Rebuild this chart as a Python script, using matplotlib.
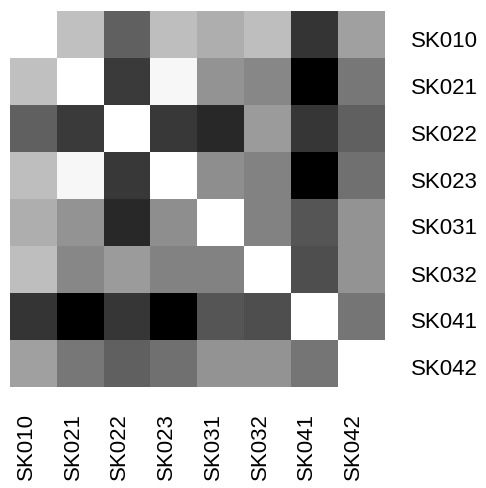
import numpy as np
import matplotlib
matplotlib.use("Agg")
import matplotlib.pyplot as plt
from matplotlib.transforms import ScaledTranslation

labels = ["SK010", "SK021", "SK022", "SK023", "SK031", "SK032", "SK041", "SK042"]

# gray intensity of each cell (0 = black, 255 = white); NaN = empty
row_SK010 = [np.nan, 192, 96, 190, 174, 190, 53, 160]
row_SK021 = [192, 255, 58, 247, 147, 135, 0, 119]
row_SK022 = [96, 58, 255, 56, 40, 155, 54, 96]
row_SK023 = [190, 247, 56, 255, 142, 130, 0, 112]
row_SK031 = [174, 147, 40, 142, 255, 130, 85, 147]
row_SK032 = [190, 135, 155, 130, 130, 255, 78, 147]
row_SK041 = [53, 0, 54, 0, 85, 78, 255, 117]
row_SK042 = [160, 119, 96, 112, 147, 147, 117, 255]

M = np.array([row_SK010, row_SK021, row_SK022, row_SK023,
              row_SK031, row_SK032, row_SK041, row_SK042], dtype=float)

plt.rcParams['font.family'] = ['Liberation Sans', 'DejaVu Sans']
fig = plt.figure(figsize=(4.86, 4.89), dpi=100)
W, H = 486, 489
x0, x1, y0, y1 = 10, 384, 12, 388
ax = fig.add_axes([x0 / W, 1 - y1 / H, (x1 - x0) / W, (y1 - y0) / H])
cmap = plt.get_cmap('gray').copy()
cmap.set_bad('white')
ax.imshow(np.ma.masked_invalid(M), cmap=cmap, vmin=0, vmax=255,
          aspect='auto', interpolation='nearest')
for s in ax.spines.values():
    s.set_visible(False)
ax.yaxis.tick_right()
ax.set_yticks(range(len(labels)))
ax.set_yticklabels(labels, fontsize=16)
ax.set_xticks(range(len(labels)))
ax.set_xticklabels(labels, fontsize=16, rotation=90)
ax.tick_params(length=0, pad=18, axis='x')
ax.tick_params(length=0, pad=19.5, axis='y')
for t in ax.get_xticklabels():
    t.set_transform(t.get_transform() + ScaledTranslation(-7 / 100, 0, fig.dpi_scale_trans))
for t in ax.get_yticklabels():
    t.set_transform(t.get_transform() + ScaledTranslation(0, -3 / 100, fig.dpi_scale_trans))
fig.savefig("out.png", dpi=100, facecolor='white')
